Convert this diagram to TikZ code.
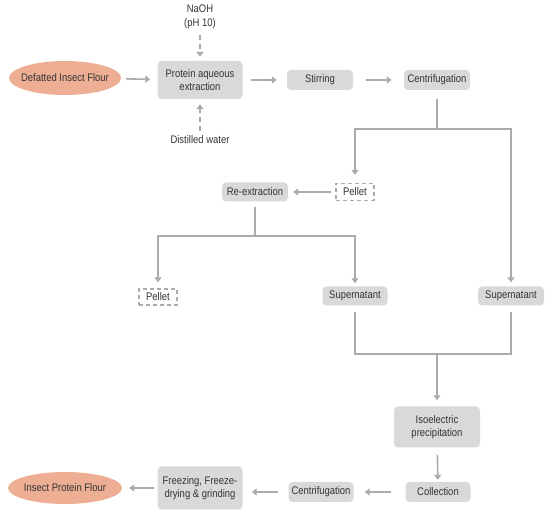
\documentclass[tikz,border=0pt]{standalone}
\usepackage{fontspec}
\setmainfont{Liberation Sans}[FakeStretch=0.86]
\usetikzlibrary{arrows.meta,shapes.geometric}
\definecolor{boxgray}{HTML}{D9D9D9}
\definecolor{linegray}{HTML}{ABABAB}
\definecolor{txt}{HTML}{333333}
\definecolor{salmon}{HTML}{EDAE94}
\tikzset{
  every node/.style={font=\fontsize{11}{12.5}\selectfont, text=txt, align=center, inner sep=0pt},
  procbox/.style={fill=boxgray, rounded corners=4pt, draw=none},
  dashbox/.style={draw=linegray, dashed, dash pattern=on 4pt off 3pt, line width=1.3pt, fill=white},
  endell/.style={ellipse, fill=salmon, draw=none, inner xsep=-8pt},
  conn/.style={draw=linegray, line width=1.6pt},
  arr/.style={conn, -{Triangle[length=5pt,width=7pt]}},
  darr/.style={arr, dash pattern=on 5pt off 4pt},
}
\begin{document}
\begin{tikzpicture}[x=1pt,y=-1pt]
\useasboundingbox (0,0) rectangle (550,510);
% nodes
\node[endell, minimum width=112pt, minimum height=34pt] (def) at (65,78) {Defatted Insect Flour};
\node[procbox, minimum width=85pt, minimum height=38pt] (prot) at (200,80) {Protein aqueous\\[1pt]extraction};
\node (naoh) at (200,17) {NaOH\\[1pt](pH 10)};
\node (water) at (200,140) {Distilled water};
\node[procbox, minimum width=66pt, minimum height=20pt] (stir) at (320,80) {Stirring};
\node[procbox, minimum width=66pt, minimum height=20pt] (cent1) at (437,80) {Centrifugation};
\node[dashbox, minimum width=38pt, minimum height=17pt] (pel1) at (355,192) {Pellet};
\node[procbox, minimum width=66pt, minimum height=19pt] (reex) at (255,192) {Re-extraction};
\node[dashbox, minimum width=38pt, minimum height=16pt] (pel2) at (158,297) {Pellet};
\node[procbox, minimum width=65pt, minimum height=19pt] (sup1) at (355,296) {Supernatant};
\node[procbox, minimum width=66pt, minimum height=19pt] (sup2) at (511,296) {Supernatant};
\node[procbox, minimum width=86pt, minimum height=41pt] (iso) at (437,427) {Isoelectric\\[1pt]precipitation};
\node[procbox, minimum width=65pt, minimum height=20pt] (coll) at (438,492) {Collection};
\node[procbox, minimum width=65pt, minimum height=20pt] (cent2) at (321,492) {Centrifugation};
\node[procbox, minimum width=85pt, minimum height=43pt] (frz) at (200,488) {Freezing, Freeze-\\[1pt]drying \& grinding};
\node[endell, minimum width=114pt, minimum height=32pt] (ipf) at (65,488) {Insect Protein Flour};
% branch coordinates
\coordinate (b1) at (437,129);
\coordinate (b2) at (255,236);
\coordinate (b3) at (437,354);
% connectors
\draw[arr, shorten <=5pt, shorten >=7pt] (def) -- (prot);
\draw[darr, shorten <=6pt, shorten >=4pt] (naoh) -- (prot);
\draw[darr, shorten <=5pt, shorten >=5pt] (water) -- (prot);
\draw[arr, shorten <=8pt, shorten >=10pt] (prot) -- (stir);
\draw[arr, shorten <=13pt, shorten >=12pt] (stir) -- (cent1);
\draw[conn, shorten <=9pt] (cent1.south) -- (b1);
\draw[arr, shorten >=8pt] (b1) -| (pel1.north);
\draw[arr, shorten >=4pt] (b1) -| (sup2.north);
\draw[arr, shorten <=4pt, shorten >=5pt] (pel1) -- (reex);
\draw[conn, shorten <=5pt] (reex.south) -- (b2);
\draw[arr, shorten >=6pt] (b2) -| (pel2.north);
\draw[arr, shorten >=3pt] (b2) -| (sup1.north);
\draw[conn, shorten <=6pt] (sup1.south) |- (b3);
\draw[conn, shorten <=6pt] (sup2.south) |- (b3);
\draw[arr, shorten >=6pt] (b3) -- (iso.north);
\draw[arr, shorten <=7pt, shorten >=2pt] (iso) -- (coll);
\draw[arr, shorten <=14pt, shorten >=11pt] (coll) -- (cent2);
\draw[arr, shorten <=10pt, shorten >=9pt] (cent2.west) -- (cent2.west -| frz.east);
\draw[arr, shorten <=3pt, shorten >=7pt] (frz) -- (ipf);
\end{tikzpicture}
\end{document}
